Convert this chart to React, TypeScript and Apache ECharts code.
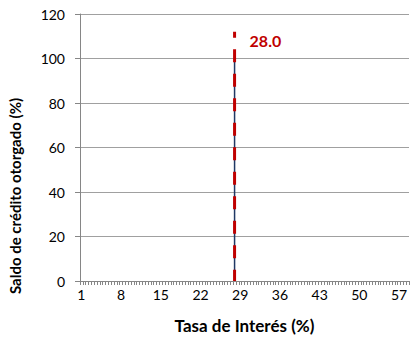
import React, { useEffect, useRef } from "react";
import * as echarts from "echarts";

// X axis: interest-rate categories (%), every half point
const RATE_START = 1;
const RATE_END = 58.5;
const RATE_STEP = 0.5;
const rateCategories: string[] = [];
for (let i = 0; RATE_START + i * RATE_STEP <= RATE_END; i++) {
  rateCategories.push(String(RATE_START + i * RATE_STEP));
}

// Cumulative credit balance (%): vertical jump at the single rate
const creditRates = ["28", "28"];
const creditValues = [0, 100];

// Reference (average) rate marker
const avgRate = 28.0;
const avgRateCategory = "28";
const avgLineValues = [112, 0];

// Y axis
const Y_MIN = 0;
const Y_MAX = 120;
const Y_STEP = 20;

const FONT = "Lato, 'Open Sans', sans-serif";

export default function App() {
  const ref = useRef<HTMLDivElement>(null);
  useEffect(() => {
    if (!ref.current) return;
    const chart = echarts.init(ref.current, undefined, { renderer: "svg" });
    chart.setOption({
      animation: false,
      grid: { left: 80, right: 2, top: 14, bottom: 58 },
      xAxis: {
        type: "category",
        data: rateCategories,
        boundaryGap: true,
        name: "Tasa de Interés (%)",
        nameLocation: "middle",
        nameGap: 36,
        nameTextStyle: { fontFamily: FONT, fontWeight: "bold", fontSize: 17, color: "#000" },
        axisLine: { lineStyle: { color: "#868686", width: 1 } },
        axisTick: { show: true, interval: 0, length: 4, lineStyle: { color: "#868686" } },
        axisLabel: {
          interval: 13,
          fontFamily: FONT,
          fontSize: 14,
          color: "#000",
          margin: 6,
        },
        splitLine: { show: false },
      },
      yAxis: {
        type: "value",
        min: Y_MIN,
        max: Y_MAX,
        interval: Y_STEP,
        axisLine: { show: true, lineStyle: { color: "#868686", width: 1 } },
        axisTick: { show: true, length: 5, lineStyle: { color: "#868686" } },
        axisLabel: { fontFamily: FONT, fontSize: 14, color: "#000", margin: 15 },
        splitLine: { lineStyle: { color: "#A0A0A0", width: 1 } },
      },
      graphic: [
        {
          type: "text",
          x: 15,
          y: 196,
          rotation: Math.PI / 2,
          style: {
            text: "Saldo de crédito otorgado (%)",
            fontFamily: FONT,
            fontWeight: "bold",
            fontSize: 15,
            fill: "#000",
            textAlign: "center",
            textVerticalAlign: "middle",
          },
        },
      ],
      series: [
        {
          type: "line",
          data: creditRates.map((r, i) => [r, creditValues[i]]),
          showSymbol: false,
          lineStyle: { color: "#1F3864", width: 1.5 },
          z: 2,
        },
        {
          type: "line",
          data: avgLineValues.map((v, i) =>
            i === 0
              ? {
                  value: [avgRateCategory, v],
                  label: {
                    show: true,
                    position: "right",
                    distance: 14.5,
                    offset: [0, 9],
                    formatter: avgRate.toFixed(1),
                    fontFamily: FONT,
                    fontWeight: "bold",
                    fontSize: 16,
                    color: "#C00000",
                  },
                }
              : { value: [avgRateCategory, v] }
          ),
          symbol: "circle",
          symbolSize: 1,
          showSymbol: true,
          itemStyle: { color: "rgba(0,0,0,0)" },
          lineStyle: { color: "#C00000", width: 3, type: [13, 11.5], dashOffset: 7 },
          z: 3,
        },
      ],
    });
    return () => chart.dispose();
  }, []);
  return (
    <div
      ref={ref}
      style={{ position: "absolute", left: 0, top: 0, width: 411, height: 339 }}
    />
  );
}
